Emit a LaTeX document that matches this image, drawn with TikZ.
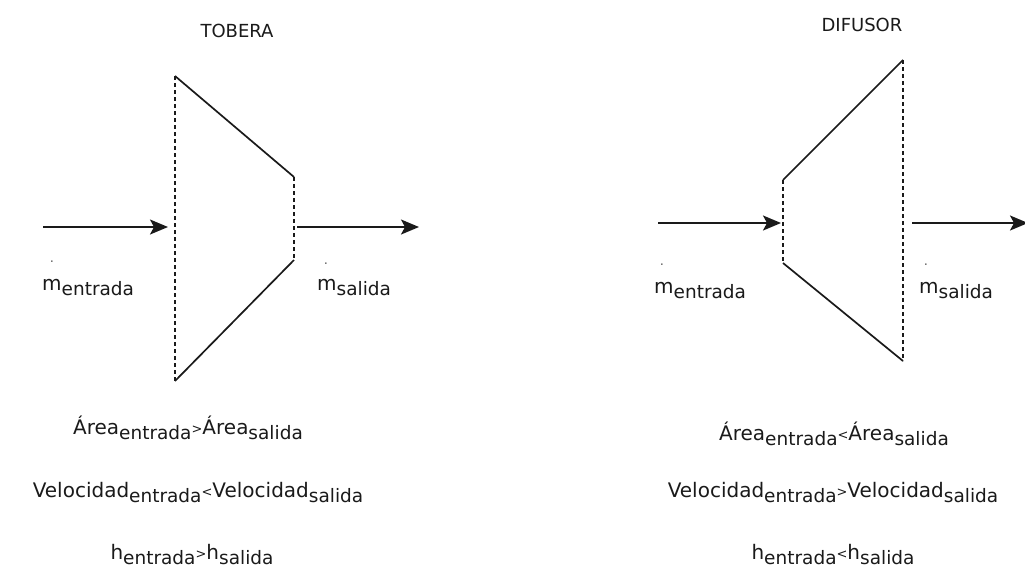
\documentclass[tikz,border=0pt]{standalone}
\usepackage{fontspec}
\setmainfont{DejaVu Sans}
\usetikzlibrary{arrows.meta}
\newcommand{\lowsub}[1]{\raisebox{-5pt}{\fontsize{18.5}{20}\selectfont #1}}
\newcommand{\cmpsym}[1]{\raisebox{1pt}{\fontsize{13}{15}\selectfont #1}}
\definecolor{ink}{HTML}{1A1A1A}
\begin{document}
\begin{tikzpicture}[x=1pt,y=-1pt,
  wall/.style={draw=ink,line width=1.7pt},
  inlet/.style={draw=ink,line width=1.2pt,dash pattern=on 4pt off 3pt},
  flow/.style={draw=ink,line width=1.9pt,-{Stealth[length=18pt,width=15pt,inset=4pt]}},
  txt/.style={text=ink,inner sep=0pt,anchor=base,font=\fontsize{20}{23}\selectfont},
  ttl/.style={text=ink,inner sep=0pt,anchor=base,font=\fontsize{18}{21}\selectfont},
  lbl/.style={text=ink,inner sep=0pt,anchor=base west,font=\fontsize{20}{23}\selectfont},
  dotm/.style={text=ink!70,inner sep=0pt,anchor=base,font=\fontsize{13}{13}\selectfont}]
\useasboundingbox (0,0) rectangle (1025,574);
% ---------- TOBERA ----------
\coordinate (tTL) at (175,76);
\coordinate (tTR) at (294,177);
\coordinate (tBR) at (294,260);
\coordinate (tBL) at (175,381);
\draw[wall] (tTL) -- (tTR);
\draw[wall] (tBR) -- (tBL);
\draw[inlet] (tTL) -- (tBL);
\draw[inlet] (tTR) -- (tBR);
\coordinate (tInA) at (43,227);
\coordinate (tInB) at (168,227);
\coordinate (tOutA) at (297,227);
\coordinate (tOutB) at (419,227);
\draw[flow] (tInA) -- (tInB);
\draw[flow] (tOutA) -- (tOutB);
\node[ttl] (tTitle) at (237,37) {TOBERA};
\node[dotm] (tDot1) at (52,262) {.};
\node[lbl] (tMin) at (42,290) {m\lowsub{entrada}};
\node[dotm] (tDot2) at (326,264) {.};
\node[lbl] (tMout) at (317,290) {m\lowsub{salida}};
\node[txt] (tArea) at (188,434) {Área\lowsub{entrada}\cmpsym{>}Área\lowsub{salida}};
\node[txt] (tVel) at (198,497) {Velocidad\lowsub{entrada}\cmpsym{<}Velocidad\lowsub{salida}};
\node[txt] (tH) at (192,559) {h\lowsub{entrada}\cmpsym{>}h\lowsub{salida}};
% ---------- DIFUSOR ----------
\coordinate (dLT) at (783,180);
\coordinate (dLB) at (783,263);
\coordinate (dRT) at (903,60);
\coordinate (dRB) at (903,361);
\draw[wall] (dLT) -- (dRT);
\draw[wall] (dLB) -- (dRB);
\draw[inlet] (dLT) -- (dLB);
\draw[inlet] (dRT) -- (dRB);
\coordinate (dInA) at (658,223);
\coordinate (dInB) at (781,223);
\coordinate (dOutA) at (912,223);
\coordinate (dOutB) at (1028,223);
\draw[flow] (dInA) -- (dInB);
\draw[flow] (dOutA) -- (dOutB);
\node[ttl] (dTitle) at (862,31) {DIFUSOR};
\node[dotm] (dDot1) at (662,265) {.};
\node[lbl] (dMin) at (654,293) {m\lowsub{entrada}};
\node[dotm] (dDot2) at (926,265) {.};
\node[lbl] (dMout) at (919,293) {m\lowsub{salida}};
\node[txt] (dArea) at (834,440) {Área\lowsub{entrada}\cmpsym{<}Área\lowsub{salida}};
\node[txt] (dVel) at (833,497) {Velocidad\lowsub{entrada}\cmpsym{>}Velocidad\lowsub{salida}};
\node[txt] (dH) at (833,559) {h\lowsub{entrada}\cmpsym{<}h\lowsub{salida}};
\end{tikzpicture}
\end{document}
